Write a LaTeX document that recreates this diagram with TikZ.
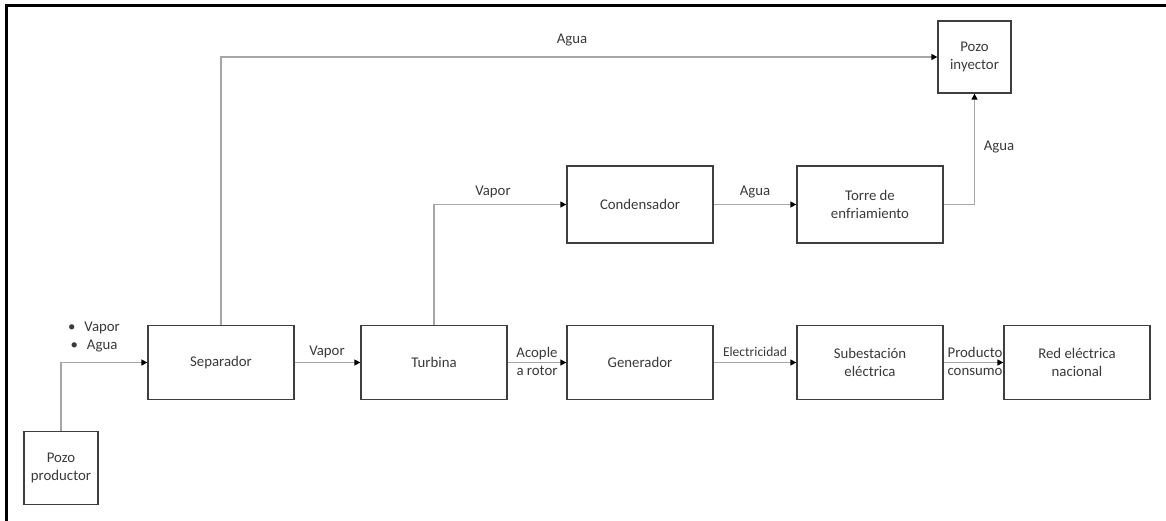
\documentclass[tikz,border=0pt]{standalone}
\usepackage{fontspec}
\setmainfont{Carlito}
\usetikzlibrary{arrows.meta}
\definecolor{boxc}{HTML}{3F3F3F}
\definecolor{linec}{HTML}{A6A6A6}
\definecolor{txtc}{HTML}{3A3A3A}
\tikzset{
 blk/.style={draw=boxc, line width=1.3pt, minimum width=146pt, minimum height=74pt, align=center, text=txtc, font=\fontsize{14.8}{18}\selectfont, inner sep=0pt},
 well/.style={blk, minimum width=74pt, minimum height=73pt},
 upper/.style={blk, minimum height=77pt},
 conn/.style={draw=linec, line width=1.3pt, -{Triangle[length=6pt,width=6pt,color=black]}},
 lbl/.style={text=txtc, font=\fontsize{14.8}{18}\selectfont, align=center, inner sep=0pt},
 smalllbl/.style={lbl, font=\fontsize{13.5}{16}\selectfont},
}
\begin{document}
\begin{tikzpicture}[x=1pt,y=-1pt]
\useasboundingbox (0,0) rectangle (1166,521);
\fill[white] (0,0) rectangle (1166,521);
\draw[line width=2.5pt] (6.5,521) -- (6.5,5.5) -- (1166,5.5);

\node[well] (pp) at (61,468) {Pozo\\productor};
\node[blk] (sep) at (221,362.5) {Separador};
\node[blk] (tur) at (434,362.5) {Turbina};
\node[blk] (gen) at (640,362.5) {Generador};
\node[blk] (sub) at (870,362.5) {Subestación\\eléctrica};
\node[blk] (red) at (1077,362.5) {Red eléctrica\\nacional};
\node[upper] (cond) at (640,204.5) {Condensador};
\node[upper] (torre) at (870,204.5) {Torre de\\enfriamiento};
\node[well, minimum width=73pt, minimum height=72pt] (pi) at (974.5,57) {Pozo\\inyector};

\draw[conn] (pp.north) |- (sep.west);
\draw[conn] (sep.north) |- (pi.west);
\draw[conn] (sep) -- (tur);
\draw[conn] (tur.north) |- (cond.west);
\draw[conn] (tur) -- (gen);
\draw[conn] (gen) -- (sub);
\draw[conn] (sub) -- (red);
\draw[conn] (cond) -- (torre);
\draw[conn] (torre.east) -| (pi.south);

\node[lbl] (l1) at (94,337.5) {•\hspace{9pt}Vapor\\•\hspace{9pt}Agua};
\node[lbl] (l2) at (572,40) {Agua};
\node[lbl] (l3) at (327,352) {Vapor};
\node[lbl] (l4) at (493,192) {Vapor};
\node[lbl] (l5) at (537,361) {Acople\\a rotor};
\node[smalllbl] (l6) at (755,352) {Electricidad};
\node[lbl] (l7) at (755,192) {Agua};
\node[lbl] (l8) at (975,361) {Producto\\consumo};
\node[lbl] (l9) at (999,147) {Agua};
\end{tikzpicture}
\end{document}
